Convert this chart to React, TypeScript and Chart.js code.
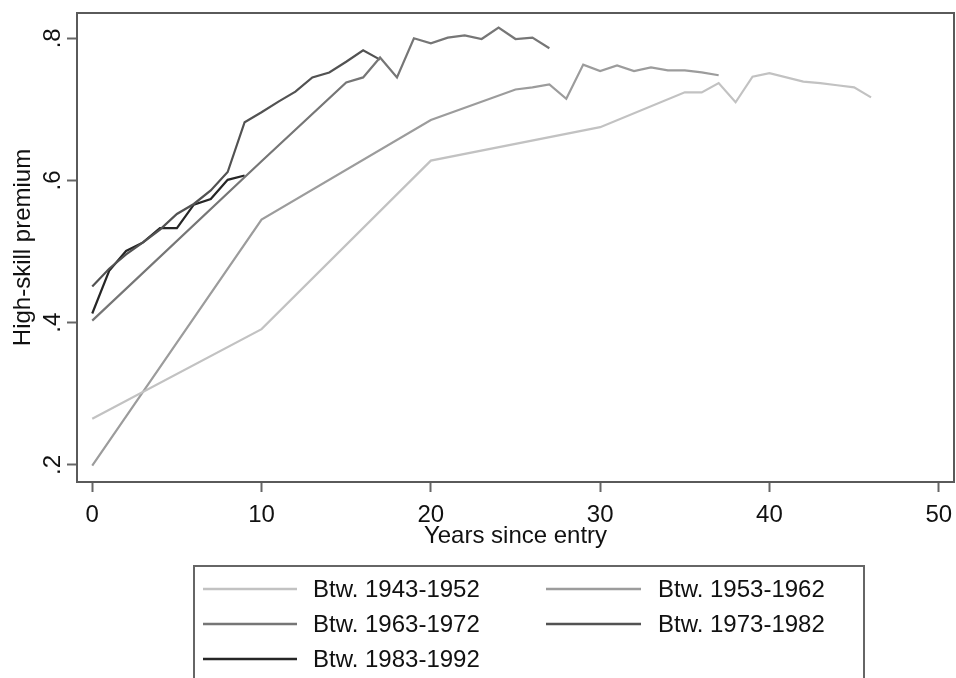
import React, { useEffect, useRef } from 'react';
import { Chart, registerables } from 'chart.js';

Chart.register(...registerables);

// ---- Data ----
const seriesLabels = ['Btw. 1943-1952', 'Btw. 1953-1962', 'Btw. 1963-1972', 'Btw. 1973-1982', 'Btw. 1983-1992'];

const years1943 = [0, 10, 20, 30, 35, 36, 37, 38, 39, 40, 42, 43, 44, 45, 46];
const premium1943 = [0.265, 0.391, 0.628, 0.675, 0.724, 0.724, 0.737, 0.71, 0.746, 0.751, 0.739, 0.737, 0.734, 0.731, 0.717];

const years1953 = [0, 10, 20, 25, 26, 27, 28, 29, 30, 31, 32, 33, 34, 35, 36, 37];
const premium1953 = [0.199, 0.545, 0.685, 0.728, 0.731, 0.735, 0.715, 0.763, 0.754, 0.762, 0.754, 0.759, 0.755, 0.755, 0.752, 0.748];

const years1963 = [0, 10, 15, 16, 17, 18, 19, 20, 21, 22, 23, 24, 25, 26, 27];
const premium1963 = [0.403, 0.627, 0.738, 0.745, 0.773, 0.745, 0.8, 0.793, 0.801, 0.804, 0.799, 0.815, 0.799, 0.801, 0.786];

const years1973 = [0, 1, 2, 3, 4, 5, 6, 7, 8, 9, 10, 11, 12, 13, 14, 15, 16, 17];
const premium1973 = [0.451, 0.476, 0.496, 0.513, 0.531, 0.553, 0.567, 0.586, 0.612, 0.682, 0.696, 0.711, 0.725, 0.745, 0.752, 0.767, 0.783, 0.77];

const years1983 = [0, 1, 2, 3, 4, 5, 6, 7, 8, 9];
const premium1983 = [0.413, 0.473, 0.501, 0.513, 0.533, 0.533, 0.566, 0.574, 0.601, 0.607];

const xTickValues = [0, 10, 20, 30, 40, 50];
const yTickValues = [0.2, 0.4, 0.6, 0.8];
const yTickLabels = ['.2', '.4', '.6', '.8'];

const seriesColors = ['#c2c2c2', '#9c9c9c', '#767676', '#525252', '#262626'];

const FONT = '"Liberation Sans", Arial, Helvetica, sans-serif';

const toPoints = (xs: number[], ys: number[]) => xs.map((x, i) => ({ x, y: ys[i] }));

const allYears = [years1943, years1953, years1963, years1973, years1983];
const allPremiums = [premium1943, premium1953, premium1963, premium1973, premium1983];

const framePlugin = {
  id: 'frameAndLegend',
  beforeDatasetsDraw(chart: any) {
    const { ctx, chartArea } = chart;
    ctx.save();
    ctx.strokeStyle = '#5a5a5a';
    ctx.lineWidth = 2;
    ctx.strokeRect(chartArea.left, chartArea.top, chartArea.right - chartArea.left, chartArea.bottom - chartArea.top);
    ctx.restore();
  },
  afterDraw(chart: any) {
    const { ctx } = chart;
    ctx.save();
    ctx.strokeStyle = '#666666';
    ctx.lineWidth = 2;
    ctx.strokeRect(194, 566, 670, 200);
    const cols = [{ lx: 203, lw: 94, tx: 313 }, { lx: 546, lw: 95, tx: 658 }];
    const rows = [590, 625, 660];
    ctx.font = '24px ' + FONT;
    ctx.textBaseline = 'middle';
    ctx.textAlign = 'left';
    seriesLabels.forEach((label, i) => {
      const c = cols[i % 2];
      const r = rows[Math.floor(i / 2)];
      ctx.strokeStyle = seriesColors[i];
      ctx.lineWidth = 2.5;
      ctx.beginPath();
      ctx.moveTo(c.lx, r - 1);
      ctx.lineTo(c.lx + c.lw, r - 1);
      ctx.stroke();
      ctx.fillStyle = '#111111';
      ctx.fillText(label, c.tx, r);
    });
    ctx.restore();
  },
};

export default function App() {
  const canvasRef = useRef<HTMLCanvasElement | null>(null);

  useEffect(() => {
    if (!canvasRef.current) return;
    const chart = new Chart(canvasRef.current, {
      type: 'line',
      data: {
        datasets: seriesLabels.map((label, i) => ({
          label,
          data: toPoints(allYears[i], allPremiums[i]),
          borderColor: seriesColors[i],
          backgroundColor: seriesColors[i],
          borderWidth: 2.2,
          pointRadius: 0,
          tension: 0,
          fill: false,
        })),
      },
      options: {
        animation: false,
        responsive: true,
        maintainAspectRatio: false,
        layout: { padding: { top: 13, right: 2, left: 0, bottom: 126 } },
        plugins: {
          legend: { display: false },
          tooltip: { enabled: false },
        },
        scales: {
          x: {
            type: 'linear',
            min: -0.9,
            max: 50.9,
            afterBuildTicks: (scale: any) => {
              scale.ticks = xTickValues.map((v) => ({ value: v }));
            },
            afterFit: (scale: any) => {
              scale.height = 70;
              scale.paddingLeft = 0;
              scale.paddingRight = 0;
            },
            ticks: {
              font: { family: FONT, size: 24 },
              color: '#111111',
              padding: 9,
              maxRotation: 0,
              minRotation: 0,
              callback: (v: any) => String(v),
            },
            grid: { drawOnChartArea: false, drawTicks: true, tickLength: 10, tickWidth: 2, tickColor: '#666666' },
            border: { display: true, color: '#111111', width: 2 },
            title: {
              display: true,
              text: 'Years since entry',
              font: { family: FONT, size: 24 },
              color: '#111111',
              padding: { top: 0, bottom: 1 },
            },
          },
          y: {
            type: 'linear',
            min: 0.176,
            max: 0.8356,
            afterBuildTicks: (scale: any) => {
              scale.ticks = yTickValues.map((v) => ({ value: v }));
            },
            afterFit: (scale: any) => {
              scale.width = 77;
              scale.paddingTop = 0;
              scale.paddingBottom = 0;
            },
            ticks: {
              font: { family: FONT, size: 24 },
              color: '#111111',
              minRotation: 90,
              maxRotation: 90,
              crossAlign: 'center',
              padding: 4,
              callback: (v: any) => {
                const idx = yTickValues.findIndex((t) => Math.abs(t - v) < 1e-6);
                return idx >= 0 ? yTickLabels[idx] : '';
              },
            },
            grid: { drawOnChartArea: false, drawTicks: true, tickLength: 10, tickWidth: 2, tickColor: '#666666' },
            border: { display: true, color: '#111111', width: 2 },
            title: {
              display: true,
              text: 'High-skill premium',
              font: { family: FONT, size: 24 },
              color: '#111111',
              padding: { top: 9, bottom: 0 },
            },
          },
        },
      },
      plugins: [framePlugin],
    } as any);
    return () => chart.destroy();
  }, []);

  return (
    <div style={{ position: 'absolute', left: 0, top: 0, width: 956, height: 678, background: '#ffffff' }}>
      <canvas ref={canvasRef} />
    </div>
  );
}
